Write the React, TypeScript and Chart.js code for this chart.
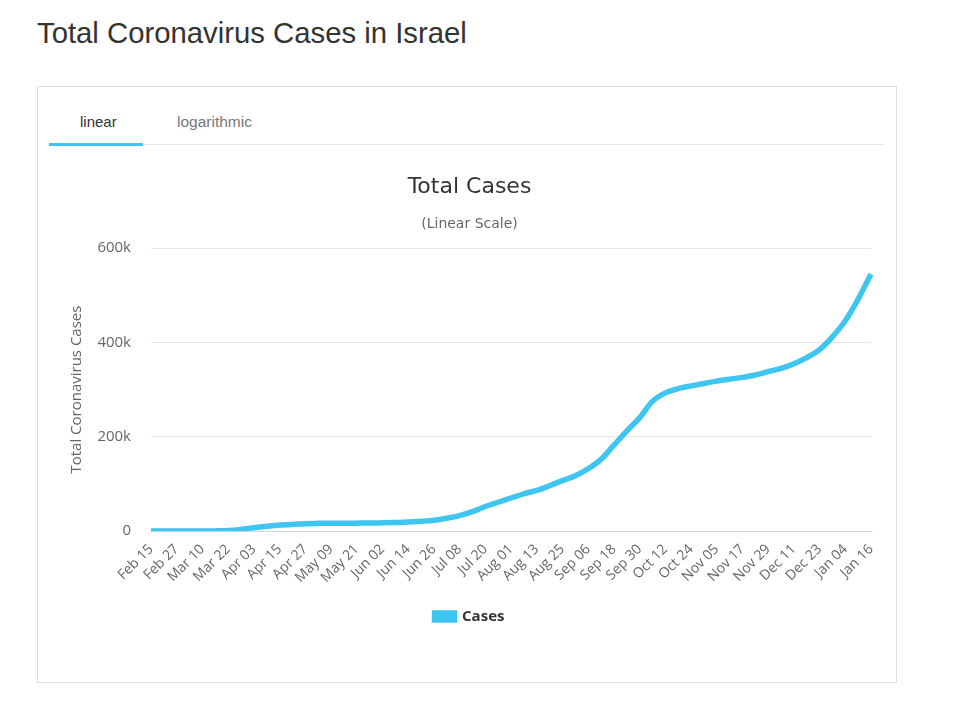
import React, { useEffect, useRef } from "react";
import { Chart, registerables } from "chart.js";

Chart.register(...registerables);

const dates: string[] = [
  "Feb 15", "Feb 21", "Feb 27", "Mar 04", "Mar 10", "Mar 16", "Mar 22", "Mar 28",
  "Apr 03", "Apr 09", "Apr 15", "Apr 21", "Apr 27", "May 03", "May 09", "May 15",
  "May 21", "May 27", "Jun 02", "Jun 08", "Jun 14", "Jun 20", "Jun 26", "Jul 02",
  "Jul 08", "Jul 14", "Jul 20", "Jul 26", "Aug 01", "Aug 07", "Aug 13", "Aug 19",
  "Aug 25", "Aug 31", "Sep 06", "Sep 12", "Sep 18", "Sep 24", "Sep 30", "Oct 06",
  "Oct 12", "Oct 18", "Oct 24", "Oct 30", "Nov 05", "Nov 11", "Nov 17", "Nov 23",
  "Nov 29", "Dec 05", "Dec 11", "Dec 17", "Dec 23", "Dec 29", "Jan 04", "Jan 10",
  "Jan 16",
];

const totalCases: number[] = [
  0, 1, 2, 15, 58, 255, 1071, 3460,
  7030, 10000, 12500, 13900, 15600, 16200, 16450, 16600,
  16700, 16800, 17400, 18100, 19000, 20600, 22800, 27000,
  32700, 41000, 52000, 61000, 70000, 79000, 86000, 96000,
  107000, 117000, 132000, 152000, 182000, 212000, 240000, 275000,
  293000, 302000, 308000, 313000, 318000, 322000, 326000, 331000,
  338000, 345000, 355000, 368000, 385000, 412000, 446000, 492000,
  545000,
];

const yTicks: number[] = [0, 200000, 400000, 600000];
const yTickLabels: string[] = ["0", "200k", "400k", "600k"];

const seriesName = "Cases";
const chartTitle = "Total Cases";
const chartSubtitle = "(Linear Scale)";
const yTitle = "Total Coronavirus Cases";
const pageTitle = "Total Coronavirus Cases in Israel";

export default function App() {
  const ref = useRef<HTMLCanvasElement | null>(null);

  useEffect(() => {
    if (!ref.current) return;
    const chart = new Chart(ref.current, {
      type: "line",
      data: {
        labels: dates,
        datasets: [
          {
            label: seriesName,
            data: totalCases,
            borderColor: "#3ec5f0",
            backgroundColor: "#3ec5f0",
            borderWidth: 5.5,
            pointRadius: 0,
            tension: 0.4,
            cubicInterpolationMode: "monotone",
            fill: false,
          },
        ],
      },
      options: {
        animation: false,
        responsive: false,
        maintainAspectRatio: false,
        layout: { padding: { left: 29, right: 24, top: 6, bottom: 7 } },
        plugins: {
          title: {
            display: true,
            text: chartTitle,
            color: "#333333",
            font: { family: "'DejaVu Sans', sans-serif", size: 22, weight: "normal" },
            padding: { top: 7, bottom: 16 },
          },
          subtitle: {
            display: true,
            text: chartSubtitle,
            color: "#666666",
            font: { family: "'DejaVu Sans', sans-serif", size: 14, weight: "normal" },
            padding: { top: 0, bottom: 15 },
          },
          legend: {
            display: true,
            position: "bottom",
            labels: {
              color: "#333333",
              font: { family: "'Open Sans', sans-serif", size: 15, weight: "bold" },
              boxWidth: 20,
              boxHeight: 7,
              padding: 10,
            },
          },
          tooltip: { enabled: false },
        },
        scales: {
          x: {
            type: "category",
            grid: { display: false },
            border: { display: true, color: "#ccd6eb", width: 1 },
            afterFit: (scale: any) => {
              scale.height = 68;
            },
            ticks: {
              autoSkip: false,
              maxRotation: 45,
              minRotation: 45,
              color: "#666666",
              font: { family: "'Open Sans', sans-serif", size: 14 },
              padding: 2,
              callback: (_v: any, i: number) => (i % 2 === 0 ? dates[i] : ""),
            },
          },
          y: {
            min: 0,
            max: 600000,
            grid: { color: "#e6e6e6", drawTicks: false },
            border: { display: false },
            afterBuildTicks: (scale: any) => {
              scale.ticks = yTicks.map((v) => ({ value: v }));
            },
            afterFit: (scale: any) => {
              scale.width = 83;
            },
            ticks: {
              color: "#666666",
              font: { family: "'Open Sans', sans-serif", size: 15 },
              padding: 20,
              callback: (v: any) => {
                const i = yTicks.indexOf(Number(v));
                return i >= 0 ? yTickLabels[i] : "";
              },
            },
            title: {
              display: true,
              text: yTitle,
              color: "#666666",
              font: { family: "'Open Sans', sans-serif", size: 15 },
              padding: { top: 0, bottom: 4 },
            },
          },
        },
      },
    });
    return () => chart.destroy();
  }, []);

  return (
    <div style={{ position: "relative", width: 944, height: 706, background: "#ffffff" }}>
      <div
        style={{
          position: "absolute",
          left: 29,
          top: 8,
          fontFamily: "'Liberation Sans', Arial, sans-serif",
          fontSize: 29.3,
          color: "#333333",
          whiteSpace: "nowrap",
        }}
      >
        {pageTitle}
      </div>
      <div
        style={{
          position: "absolute",
          left: 29,
          top: 78,
          width: 858,
          height: 595,
          border: "1px solid #dddddd",
          background: "#ffffff",
        }}
      >
        <div
          style={{
            position: "absolute",
            left: 11,
            top: 57,
            width: 836,
            height: 1,
            background: "#e8e8e8",
          }}
        />
        <div
          style={{
            position: "absolute",
            left: 11,
            top: 56,
            width: 94,
            height: 3,
            background: "#3ec5f0",
          }}
        />
        <div
          style={{
            position: "absolute",
            left: 42,
            top: 26,
            fontFamily: "'Liberation Sans', Arial, sans-serif",
            fontSize: 15,
            color: "#333333",
          }}
        >
          linear
        </div>
        <div
          style={{
            position: "absolute",
            left: 139,
            top: 26,
            fontFamily: "'Liberation Sans', Arial, sans-serif",
            fontSize: 15.5,
            color: "#777777",
          }}
        >
          logarithmic
        </div>
        <canvas
          ref={ref}
          width={856}
          height={480}
          style={{ position: "absolute", left: 1, top: 74, width: 856, height: 480 }}
        />
      </div>
    </div>
  );
}
